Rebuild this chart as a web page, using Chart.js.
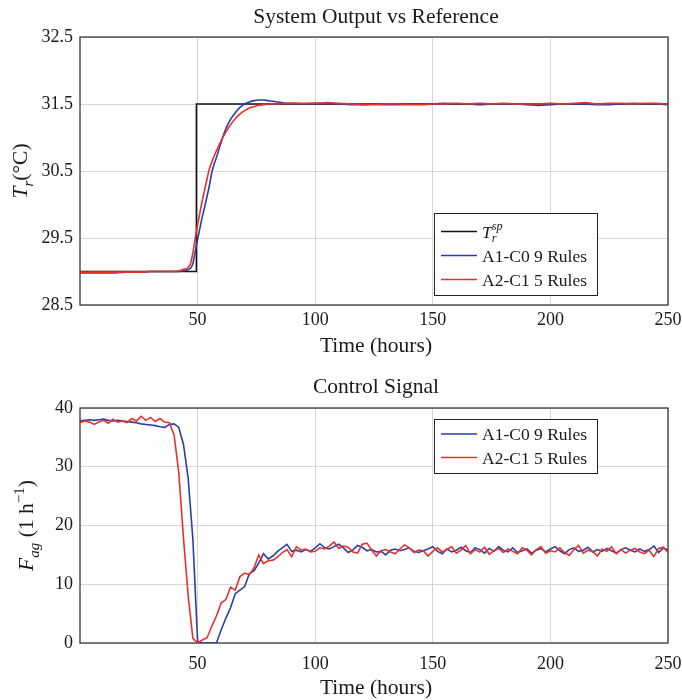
<!DOCTYPE html>
<html>
<head>
<meta charset="utf-8">
<script src="https://cdn.jsdelivr.net/npm/chart.js@4.4.1/dist/chart.umd.min.js"></script>
<style>
  html, body { margin: 0; padding: 0; background: #fff; }
  #wrap { position: relative; width: 682px; height: 700px; }
  .panel { position: absolute; left: 0; width: 682px; }
</style>
</head>
<body>
<div id="wrap">
  <div class="panel" style="top:0;height:362px"><canvas id="out" width="682" height="362"></canvas></div>
  <div class="panel" style="top:362px;height:338px"><canvas id="ctl" width="682" height="338"></canvas></div>
</div>
<script>
// ---- series names ----
const seriesA1 = 'A1-C0 9 Rules';
const seriesA2 = 'A2-C1 5 Rules';

// ---- tick values ----
const xTicks = [50, 100, 150, 200, 250];
const outYTicks = [28.5, 29.5, 30.5, 31.5, 32.5];
const ctlYTicks = [0, 10, 20, 30, 40];

// ---- reactor temperature set point (°C) ----
const spTime = [0, 49.5, 49.5, 250];
const spValue = [29.0, 29.0, 31.5, 31.5];

// ---- reactor temperature response (°C) ----
const outTime = [0, 5, 10, 15, 20, 25, 30, 35,
  38, 40, 42, 44, 46,
  47, 48, 49, 50, 51, 52, 53, 54, 55, 56, 57, 58,
  60, 62, 64, 66, 68, 70, 72, 74, 76, 78, 80, 82, 84, 86, 88, 90,
  95, 100, 105, 110, 115, 120, 125, 130, 135, 140, 145, 150, 155, 160, 165, 170,
  175, 180, 185, 190, 195, 200, 205, 210, 215, 220, 225, 230, 235, 240, 245, 250];

const outA1 = [28.98, 28.98, 28.98, 28.98, 28.99, 28.99, 29.0, 29.0,
  29.0, 29.0, 29.0, 29.01, 29.03,
  29.05, 29.12, 29.3, 29.48, 29.65, 29.82, 29.96, 30.12, 30.28, 30.47, 30.6, 30.7,
  30.93, 31.13, 31.27, 31.37, 31.45, 31.5, 31.53, 31.55, 31.56, 31.56, 31.55, 31.54, 31.53, 31.52, 31.51, 31.51,
  31.5, 31.51, 31.51, 31.5, 31.49, 31.49, 31.5, 31.49, 31.49, 31.5, 31.5, 31.5, 31.51, 31.5, 31.5, 31.49,
  31.5, 31.5, 31.5, 31.49, 31.48, 31.49, 31.5, 31.5, 31.5, 31.49, 31.49, 31.5, 31.51, 31.5, 31.5, 31.49];

const outA2 = [28.99, 28.99, 28.99, 28.99, 28.99, 28.99, 29.0, 29.0,
  29.0, 29.0, 29.01, 29.03, 29.06,
  29.12, 29.28, 29.5, 29.7, 29.88, 30.06, 30.22, 30.38, 30.53, 30.63, 30.72, 30.8,
  30.95, 31.08, 31.19, 31.28, 31.35, 31.4, 31.44, 31.46, 31.48, 31.49, 31.5, 31.5, 31.5, 31.51, 31.51, 31.51,
  31.51, 31.51, 31.52, 31.51, 31.5, 31.49, 31.49, 31.5, 31.5, 31.49, 31.49, 31.5, 31.5, 31.51, 31.5, 31.51,
  31.5, 31.51, 31.5, 31.5, 31.5, 31.51, 31.5, 31.51, 31.52, 31.5, 31.51, 31.51, 31.5, 31.51, 31.51, 31.5];

// ---- agitator flow control signal (1/h) ----
const ctlTime = [0, 2, 4, 6, 8, 10, 12, 14, 16, 18,
  20, 22, 24, 26, 28, 30, 32, 34, 36, 38,
  40, 42, 44, 46, 48, 50, 52, 54, 56, 58,
  60, 62, 64, 66, 68, 70, 72, 74, 76, 78,
  80, 82, 84, 86, 88, 90, 92, 94, 96, 98,
  100, 102, 104, 106, 108, 110, 112, 114, 116, 118,
  120, 122, 124, 126, 128, 130, 132, 134, 136, 138,
  140, 142, 144, 146, 148, 150, 152, 154, 156, 158,
  160, 162, 164, 166, 168, 170, 172, 174, 176, 178,
  180, 182, 184, 186, 188, 190, 192, 194, 196, 198,
  200, 202, 204, 206, 208, 210, 212, 214, 216, 218,
  220, 222, 224, 226, 228, 230, 232, 234, 236, 238,
  240, 242, 244, 246, 248, 250];

const ctlA1 = [37.8, 37.9, 38.0, 37.9, 38.0, 38.1, 37.9, 37.8, 37.9, 37.8,
  37.7, 37.6, 37.5, 37.3, 37.2, 37.1, 37.0, 36.8, 36.7, 37.2,
  37.3, 36.7, 33.8, 28.0, 17.6, 0.3, 0, 0, 0, 0,
  2.2, 4.2, 6.0, 8.4, 9.0, 9.6, 11.8, 12.3, 13.6, 15.2,
  14.3, 14.8, 15.6, 16.2, 16.8, 15.6, 15.8, 15.5, 15.9, 15.6,
  16.2, 16.9, 16.2, 16.0, 16.4, 16.8, 16.2, 15.4, 15.8, 16.6,
  16.3, 15.7, 15.9, 15.5, 15.6, 15.0, 15.8, 16.0, 15.7, 15.9,
  16.2, 15.6, 15.4, 15.7, 16.0, 16.4, 15.6, 15.2, 16.0, 15.5,
  15.8, 16.3, 15.7, 15.4, 16.2, 15.9, 15.3, 16.1, 15.6, 16.4,
  15.8, 15.5, 16.2, 15.4, 15.7, 16.0, 15.3, 15.8, 16.1, 15.5,
  16.0, 16.4, 15.7, 15.2, 15.9, 16.2, 15.6, 15.8, 16.3, 15.5,
  15.9, 15.6, 16.1, 15.7, 15.3, 15.9, 16.2, 15.8, 15.5, 16.0,
  15.6, 15.9, 16.5, 15.4, 16.2, 15.8];

const ctlA2 = [37.5, 37.8, 37.6, 37.2, 37.6, 37.9, 37.4, 38.1, 37.6, 37.8,
  37.5, 38.2, 37.8, 38.6, 37.9, 38.4, 37.7, 38.2, 37.6, 37.5,
  35.4, 29.0, 17.8, 8.0, 0.8, 0, 0.5, 0.9, 2.8, 4.6,
  6.8, 7.4, 9.5, 9.0, 11.3, 11.9, 11.6, 12.8, 15.0, 13.5,
  14.0, 14.1, 14.6, 15.4, 15.9, 14.7, 16.4, 15.8, 16.0, 15.5,
  15.6, 16.2, 16.0, 16.5, 17.2, 16.1, 16.5, 16.3, 15.5, 15.3,
  16.8, 17.0, 15.8, 14.8, 15.7, 15.9, 15.5, 15.2, 16.0, 16.7,
  16.2, 15.4, 15.8, 15.7, 14.8, 15.6, 16.2, 15.5, 15.9, 16.4,
  15.3, 15.8, 16.6, 15.2, 15.9, 15.5, 16.3, 15.1, 15.7, 16.1,
  15.4, 16.0, 15.6, 15.2, 16.2, 15.8, 15.0, 15.9, 16.4, 15.3,
  15.7, 15.5, 16.2, 15.4, 14.9, 15.9, 16.6, 15.3, 15.8, 15.6,
  14.8, 16.0, 15.6, 16.4, 15.2, 15.9, 15.3, 15.8, 16.1, 15.5,
  15.2, 15.8, 14.7, 16.1, 16.3, 15.4];

// ---- styling ----
const SERIF = '"Liberation Serif", "Times New Roman", serif';
const BLUE = '#2c3da6';
const RED = '#e8312b';
const BLACK = '#111111';
const GRID = '#d6d6d6';
const TEXT = '#1a1a1a';

function pts(xs, ys) { return xs.map((x, i) => ({ x: x, y: ys[i] })); }
function fontOf(size, italic) { return (italic ? 'italic ' : '') + size + 'px ' + SERIF; }

// Lay out a run of text pieces with optional italic / subscript / superscript.
function layoutRun(ctx, parts, size) {
  let x = 0, lastStart = 0;
  const items = [];
  for (const p of parts) {
    const s = (p.sub || p.sup) ? size * 0.7 : size;
    const f = fontOf(s, p.it);
    ctx.font = f;
    const w = ctx.measureText(p.t).width;
    const px = p.stack ? lastStart : x;
    const dy = p.sub ? size * 0.28 : (p.sup ? -size * 0.42 : 0);
    items.push({ t: p.t, f: f, x: px, dy: dy });
    if (p.stack) { x = Math.max(x, px + w); } else { lastStart = px; x = px + w; }
  }
  return { items: items, width: x };
}
function drawRun(ctx, parts, x, y, size, align) {
  const L = layoutRun(ctx, parts, size);
  const x0 = align === 'center' ? x - L.width / 2 : x;
  ctx.textAlign = 'left';
  ctx.textBaseline = 'alphabetic';
  for (const it of L.items) { ctx.font = it.f; ctx.fillText(it.t, x0 + it.x, y + it.dy); }
}

// Frame, titles, axis titles and boxed legend.
const decor = {
  id: 'decor',
  beforeDatasetsDraw(chart) {
    const { ctx, chartArea: a } = chart;
    ctx.save();
    ctx.strokeStyle = '#3a3a3a';
    ctx.lineWidth = 1.3;
    ctx.strokeRect(a.left, a.top, a.right - a.left, a.bottom - a.top);
    ctx.restore();
  },
  afterDraw(chart, args, o) {
    const { ctx, chartArea: a } = chart;
    const cx = (a.left + a.right) / 2 + 2;
    ctx.save();
    ctx.fillStyle = TEXT;
    drawRun(ctx, [{ t: o.title }], cx, o.titleY, 21.5, 'center');
    drawRun(ctx, [{ t: 'Time (hours)' }], cx, o.xTitleY, 21.5, 'center');
    ctx.translate(o.yTitleX, (a.top + a.bottom) / 2);
    ctx.rotate(-Math.PI / 2);
    drawRun(ctx, o.yTitle, 0, 0, 21.5, 'center');
    ctx.restore();

    const L = o.legend;
    ctx.save();
    ctx.fillStyle = '#ffffff';
    ctx.fillRect(L.x, L.y, L.w, L.h);
    ctx.strokeStyle = '#222222';
    ctx.lineWidth = 1;
    ctx.strokeRect(L.x + 0.5, L.y + 0.5, L.w, L.h);
    L.rows.forEach((r, i) => {
      const y = L.y + L.first + i * L.gap;
      ctx.strokeStyle = r.color;
      ctx.lineWidth = 1.5;
      ctx.beginPath();
      ctx.moveTo(L.x + 7, y);
      ctx.lineTo(L.x + 43, y);
      ctx.stroke();
      ctx.fillStyle = TEXT;
      drawRun(ctx, r.text, L.x + 48, y + 6, 17.5, 'left');
    });
    ctx.restore();
  }
};

function axes(yTicks, yMin, yMax, xHeight, xPad, yFmt) {
  const tickFont = { family: SERIF, size: 18 };
  return {
    x: {
      type: 'linear', min: 0, max: 250,
      afterBuildTicks: s => { s.ticks = xTicks.map(v => ({ value: v })); },
      afterFit: s => { s.height = xHeight; s.paddingLeft = 0; s.paddingRight = 0; },
      grid: { color: GRID, lineWidth: 1, drawTicks: false },
      border: { display: false },
      ticks: { font: tickFont, color: TEXT, padding: xPad, maxRotation: 0, autoSkip: false }
    },
    y: {
      type: 'linear', min: yMin, max: yMax,
      afterBuildTicks: s => { s.ticks = yTicks.map(v => ({ value: v })); },
      afterFit: s => { s.width = 80; s.paddingTop = 0; s.paddingBottom = 0; },
      grid: { color: GRID, lineWidth: 1, drawTicks: false },
      border: { display: false },
      ticks: { font: tickFont, color: TEXT, padding: 7, autoSkip: false, callback: yFmt }
    }
  };
}

const lineBase = { pointRadius: 0, borderWidth: 1.6, fill: false };

new Chart(document.getElementById('out'), {
  type: 'line',
  data: {
    datasets: [
      Object.assign({ label: 'Tr sp', data: pts(spTime, spValue), borderColor: BLACK, order: 2, tension: 0 }, lineBase),
      Object.assign({ label: seriesA1, data: pts(outTime, outA1), borderColor: BLUE, order: 1, cubicInterpolationMode: 'monotone' }, lineBase),
      Object.assign({ label: seriesA2, data: pts(outTime, outA2), borderColor: RED, order: 0, cubicInterpolationMode: 'monotone' }, lineBase)
    ]
  },
  options: {
    responsive: false, animation: false, devicePixelRatio: 1,
    layout: { padding: { top: 37, right: 14, left: 0, bottom: 0 } },
    plugins: {
      legend: { display: false }, tooltip: { enabled: false },
      decor: {
        title: 'System Output vs Reference', titleY: 23, xTitleY: 352,
        yTitleX: 27,
        yTitle: [{ t: 'T', it: 1 }, { t: 'r', it: 1, sub: 1 }, { t: '(°C)' }],
        legend: {
          x: 434, y: 213, w: 163, h: 82, first: 18.5, gap: 24,
          rows: [
            { color: BLACK, text: [{ t: 'T', it: 1 }, { t: 'r', it: 1, sub: 1 }, { t: 'sp', it: 1, sup: 1, stack: 1 }] },
            { color: BLUE, text: [{ t: seriesA1 }] },
            { color: RED, text: [{ t: seriesA2 }] }
          ]
        }
      }
    },
    scales: axes(outYTicks, 28.5, 32.5, 362 - 305, 4, v => v.toFixed(1))
  },
  plugins: [decor]
});

new Chart(document.getElementById('ctl'), {
  type: 'line',
  data: {
    datasets: [
      Object.assign({ label: seriesA1, data: pts(ctlTime, ctlA1), borderColor: BLUE, order: 1, tension: 0 }, lineBase),
      Object.assign({ label: seriesA2, data: pts(ctlTime, ctlA2), borderColor: RED, order: 0, tension: 0 }, lineBase)
    ]
  },
  options: {
    responsive: false, animation: false, devicePixelRatio: 1,
    layout: { padding: { top: 46, right: 14, left: 0, bottom: 0 } },
    plugins: {
      legend: { display: false }, tooltip: { enabled: false },
      decor: {
        title: 'Control Signal', titleY: 30.5, xTitleY: 332,
        yTitleX: 33,
        yTitle: [{ t: 'F', it: 1 }, { t: 'ag', it: 1, sub: 1 }, { t: ' (1 h' }, { t: '−1', sup: 1 }, { t: ')' }],
        legend: {
          x: 434, y: 57, w: 163, h: 54, first: 15, gap: 23.5,
          rows: [
            { color: BLUE, text: [{ t: seriesA1 }] },
            { color: RED, text: [{ t: seriesA2 }] }
          ]
        }
      }
    },
    scales: axes(ctlYTicks, 0, 40, 338 - 281, 10, v => String(v))
  },
  plugins: [decor]
});
</script>
</body>
</html>
